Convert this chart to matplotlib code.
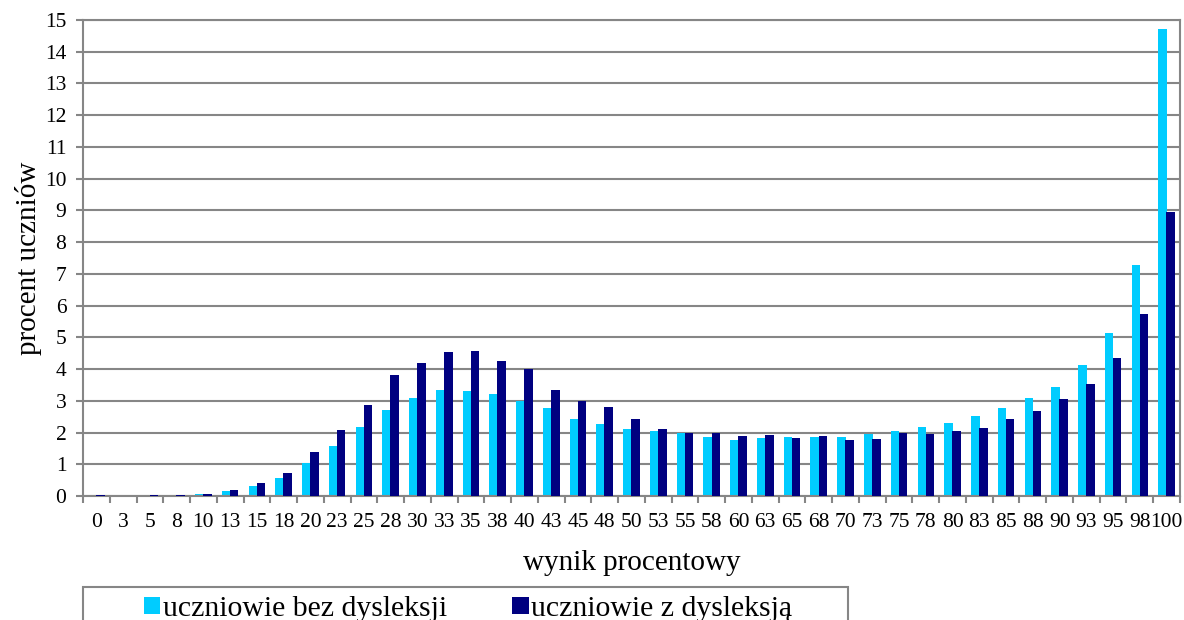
import matplotlib.pyplot as plt
import numpy as np
from matplotlib.patches import Rectangle

plt.rcParams['font.family'] = ['Liberation Serif', 'DejaVu Serif']

wyniki = ['0', '3', '5', '8', '10', '13', '15', '18', '20', '23', '25', '28', '30', '33',
          '35', '38', '40', '43', '45', '48', '50', '53', '55', '58', '60', '63', '65', '68',
          '70', '73', '75', '78', '80', '83', '85', '88', '90', '93', '95', '98', '100']

bez_dysleksji = [0.04, 0.03, 0.03, 0.03, 0.07, 0.16, 0.31, 0.57, 1.05, 1.56, 2.18, 2.70,
                 3.09, 3.35, 3.32, 3.20, 3.00, 2.76, 2.44, 2.28, 2.11, 2.05, 1.97, 1.87,
                 1.77, 1.84, 1.86, 1.86, 1.85, 1.95, 2.06, 2.16, 2.30, 2.52, 2.77, 3.09,
                 3.45, 4.13, 5.14, 7.28, 14.71]
z_dysleksja = [0.04, 0.01, 0.03, 0.03, 0.07, 0.18, 0.40, 0.72, 1.38, 2.09, 2.88, 3.81,
               4.20, 4.54, 4.57, 4.24, 4.01, 3.34, 3.00, 2.80, 2.44, 2.12, 2.00, 2.00,
               1.89, 1.91, 1.82, 1.88, 1.78, 1.81, 2.00, 1.95, 2.04, 2.14, 2.43, 2.67,
               3.05, 3.52, 4.36, 5.74, 8.96]

jasny = '#00CCFF'
ciemny = '#000080'
szary = '#868686'

x = np.arange(len(wyniki))
szer = 0.32

fig = plt.figure(figsize=(11.84, 6.2), dpi=100)
ax = fig.add_axes([83 / 1184, 1 - 496 / 620, (1180 - 83) / 1184, (496 - 20) / 620])

b1 = ax.bar(x - 0.15, bez_dysleksji, szer, color=jasny, label='uczniowie bez dysleksji', zorder=2)
b2 = ax.bar(x + 0.15, z_dysleksja, szer, color=ciemny, label='uczniowie z dysleksją', zorder=3)

ax.set_xlim(-0.5, len(wyniki) - 0.5)
ax.set_ylim(0, 15)
ax.set_yticks(np.arange(0, 16, 1))
ax.grid(axis='y', color=szary, linewidth=1.5, zorder=0)
ax.set_axisbelow(True)

ax.set_xticks(x)
ax.set_xticklabels(wyniki, fontsize=15.5)
ax.set_xticks(np.arange(-0.5, len(wyniki), 1), minor=True)
ax.tick_params(axis='x', which='major', length=0, pad=12)
ax.tick_params(axis='x', which='minor', length=5, width=1.5, color=szary, direction='out')
ax.tick_params(axis='y', length=5, width=1.5, color=szary, labelsize=15.5, pad=7)

for s in ax.spines.values():
    s.set_color(szary)
    s.set_linewidth(1.5)

ax.set_xlabel('wynik procentowy', fontsize=21, labelpad=13)
ax.set_ylabel('procent uczniów', fontsize=21)
ax.yaxis.set_label_coords(-0.037, 0.5)

# ramka legendy ucięta dolną krawędzią rysunku
fig.add_artist(Rectangle((83 / 1184, -0.05), (848 - 83) / 1184, 0.05 + 1 - 587 / 620,
                         transform=fig.transFigure, facecolor='none',
                         edgecolor=szary, linewidth=1.5))
fig.legend(handles=[b1, b2], loc='center left', bbox_to_anchor=(144 / 1184, 1 - 609 / 620),
           ncol=2, frameon=False, fontsize=21.4, handlelength=0.55, handleheight=0.55,
           handletextpad=0.08, columnspacing=2.2, borderpad=0, borderaxespad=0)

fig.savefig('out.png', dpi=100)
